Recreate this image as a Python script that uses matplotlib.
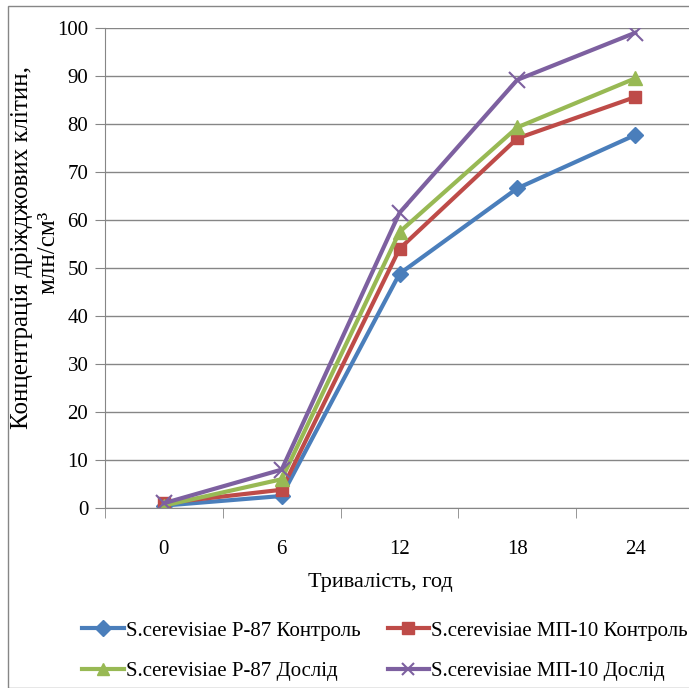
import matplotlib
matplotlib.use("Agg")
import matplotlib.pyplot as plt
from matplotlib.patches import Rectangle

plt.rcParams['font.family'] = ['Liberation Serif', 'DejaVu Serif']

hours = ["0", "6", "12", "18", "24"]
p87_control = [0.5, 2.5, 48.8, 66.6, 77.7]
mp10_control = [1.0, 3.8, 54.0, 77.0, 85.6]
p87_exp = [0.5, 6.0, 57.5, 79.3, 89.5]
mp10_exp = [1.0, 8.0, 61.5, 89.2, 99.0]
labels = ["S.cerevisiae P-87 Контроль", "S.cerevisiae МП-10 Контроль",
          "S.cerevisiae P-87 Дослід", "S.cerevisiae МП-10 Дослід"]
yticks = [0, 10, 20, 30, 40, 50, 60, 70, 80, 90, 100]

fig = plt.figure(figsize=(6.89, 6.88), dpi=100)
ax = fig.add_axes([105/689, (688-508)/688, (694-105)/689, 480/688])

x = list(range(len(hours)))
series = [
    (p87_control, "#4A7EBB", "D", 8, labels[0]),
    (mp10_control, "#BE4B48", "s", 9, labels[1]),
    (p87_exp, "#98B954", "^", 10, labels[2]),
    (mp10_exp, "#7D60A0", "x", 11, labels[3]),
]
handles = []
for vals, c, m, ms, lab in series:
    kw = dict(markeredgewidth=1.5) if m == "x" else dict(markeredgecolor=c)
    h, = ax.plot(x, vals, color=c, lw=3, marker=m, markersize=ms, label=lab,
                 markerfacecolor=c, **kw)
    handles.append(h)

ax.set_xlim(-0.5, 4.5)
ax.set_ylim(0, 100)
ax.set_yticks(yticks)
ax.set_yticklabels([str(v) for v in yticks], fontsize=15)
ax.set_xticks(x)
ax.set_xticklabels(hours, fontsize=15)
ax.set_xticks([i + 0.5 for i in range(-1, 5)], minor=True)
ax.tick_params(axis='x', which='major', length=0, pad=23)
ax.tick_params(axis='x', which='minor', length=7, color='#868686', direction='out')
ax.tick_params(axis='y', length=7, color='#868686', direction='out', pad=5)
ax.grid(axis='y', color='#868686', lw=1)
ax.set_axisbelow(True)
for s in ['top', 'right']:
    ax.spines[s].set_visible(False)
for s in ['left', 'bottom']:
    ax.spines[s].set_color('#868686')

fig.text(380/689, 1 - 583/688, "Тривалість, год", ha='center', va='center', fontsize=16)
fig.text(22/689, 1 - 247/688, "Концентрація дріжджових клітин,", rotation=90,
         ha='center', va='center', fontsize=18)
fig.text(48/689, 1 - 252/688, "млн/см³", rotation=90, ha='center', va='center', fontsize=18)

leg = fig.legend(handles=[handles[0], handles[2], handles[1], handles[3]],
                 labels=[labels[0], labels[2], labels[1], labels[3]],
                 ncol=2, loc='center', bbox_to_anchor=(385/689, 1 - 651/688),
                 frameon=False, fontsize=15, handlelength=2.0, handletextpad=0.1,
                 columnspacing=1.3, labelspacing=1.0)
for lh in leg.legend_handles:
    lh.set_markersize(8)

fig.patches.append(Rectangle((8/689, 0), 1, 1 - 6/688, transform=fig.transFigure,
                             fill=False, edgecolor='#868686', lw=1))

fig.savefig("out.png", dpi=100)
